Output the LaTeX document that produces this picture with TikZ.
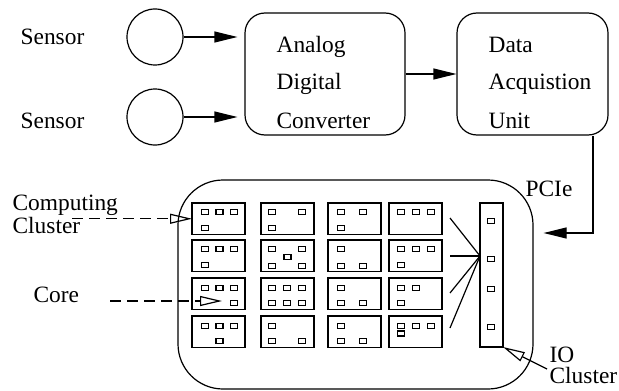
\documentclass[tikz,border=0pt]{standalone}
\usepackage{fontspec}
\setmainfont{Liberation Serif}
\usetikzlibrary{arrows.meta}

% one square of a core inside a cluster box
\tikzset{
  coresq/.pic={\draw[line width=0.55pt] (-3.5,-2.5) rectangle (3.5,2.5);}
}
% a computing cluster: name, top-left corner, list of core offsets
\newcommand\clusterbox[4]{%
  \node[clbox, anchor=north west] (#1) at (#2,#3) {};
  \foreach \dx/\dy in {#4} \pic at ([shift={(\dx,\dy)}]#1.north west) {coresq};
}

\begin{document}
\begin{tikzpicture}[x=0.5pt, y=-0.5pt, line width=0.6pt,
  lbl/.style={inner sep=0pt, anchor=base west, font=\fontsize{11.7}{13}\selectfont},
  unit/.style={draw, rounded corners=10pt, inner sep=0pt},
  sensorc/.style={draw, circle, inner sep=0pt, minimum size=28pt},
  clbox/.style={draw, inner sep=0pt, outer sep=0pt, minimum width=26.5pt, minimum height=15.75pt},
  arr/.style={-{Triangle[length=11.5pt, width=5.5pt]}},
  openarr/.style={-{Triangle[open, length=11pt, width=5pt]}},
  dasharr/.style={openarr, dash pattern=on 5.5pt off 3pt},
]
\useasboundingbox (0,0) rectangle (619,390);

% sensors
\node[lbl] (sl1) at (20,45) {Sensor};
\node[lbl] (sl2) at (20,128) {Sensor};
\node[sensorc] (c1) at (155,37) {};
\node[sensorc] (c2) at (155,117) {};

% converter and acquisition unit
\node[unit, minimum width=80pt, minimum height=61pt] (adc) at (325,74) {};
\node[lbl] (adc1) at (276,53) {Analog};
\node[lbl] (adc2) at (276,90) {Digital};
\node[lbl] (adc3) at (276,128) {Converter};

\node[unit, minimum width=75.5pt, minimum height=61pt] (dau) at (532.5,74) {};
\node[lbl] (dau1) at (488,53) {Data};
\node[lbl] (dau2) at (488,90) {Acquistion};
\node[lbl] (dau3) at (488,128) {Unit};

\draw[arr, shorten >=3.5pt] (c1.east) -- (c1.east -| adc.west);
\draw[arr, shorten >=3.5pt] (c2.east) -- (c2.east -| adc.west);
\draw[arr] (adc.east) -- (dau.west);

% board
\node[draw, rounded corners=22.5pt, inner sep=0pt, minimum width=177.5pt, minimum height=104.5pt] (board) at (355.5,284.5) {};

\coordinate (pcx) at (593,233);
\draw[arr, shorten >=5pt] (dau.south -| pcx) |- (board.east |- pcx);
\node[lbl] (pcie) at (525,196) {PCIe};

% computing clusters
\clusterbox{k11}{192}{203}{13/9, 27.5/9, 42/9, 13/25}
\clusterbox{k12}{261}{203}{11/9, 41/9, 11/25}
\clusterbox{k13}{328}{203}{13/9, 35/9, 13/25}
\clusterbox{k14}{389}{203}{12/9, 27/9, 42/9}

\clusterbox{k21}{192}{240}{13/9, 27.5/9, 42/9, 13/25}
\clusterbox{k22}{261}{240}{11/9, 41/9, 26.5/17, 11/26, 41/26}
\clusterbox{k23}{328}{240}{13/9, 13/26, 35/26}
\clusterbox{k24}{389}{240}{12/9, 27/9, 42/9, 12/25}

\clusterbox{k31}{192}{278}{13/10, 27.5/10, 42/10, 42/25}
\clusterbox{k32}{261}{278}{11/10, 26/10, 41/10, 11/25, 26/25, 41/25}
\clusterbox{k33}{328}{278}{13/10, 13/25, 35/25}
\clusterbox{k34}{389}{278}{12/10, 27/10, 12/25}

\clusterbox{k41}{192}{316}{13/10, 27.5/10, 42/10, 27.5/25}
\clusterbox{k42}{261}{316}{11/10, 11/25, 41/25}
\clusterbox{k43}{328}{316}{13/10, 13/25, 35/25}
\clusterbox{k44}{389}{316}{12/10, 27/10, 42/10, 12/17.5}

% IO cluster
\node[draw, inner sep=0pt, outer sep=0pt, anchor=north west, minimum width=11.5pt, minimum height=72pt] (io) at (480,203) {};
\foreach \yy in {221,259,289,327} \pic at (491,\yy) {coresq};

\coordinate (hub) at (480,256);
\coordinate (f1) at (450,218);
\coordinate (f2) at (450,256);
\coordinate (f3) at (450,293);
\coordinate (f4) at (450,328);
\foreach \f in {f1,f2,f3,f4} \draw (\f) -- (hub);

% labels with pointers
\node[lbl] (cc1) at (12,210) {Computing};
\node[lbl] (cc2) at (12,233) {Cluster};
\coordinate (ccs) at (72,218.75);
\draw[dasharr] (ccs) -- (k11.west);

\node[lbl] (core) at (33,302) {Core};
\coordinate (cores) at (110,301);
\coordinate (coret) at (222,301);
\draw[dasharr] (cores) -- (coret);

\node[lbl] (io1) at (549,362) {IO};
\node[lbl] (io2) at (549,383) {Cluster};
\coordinate (ios) at (547,369);
\draw[openarr] (ios) -- (io.south east);
\end{tikzpicture}
\end{document}
